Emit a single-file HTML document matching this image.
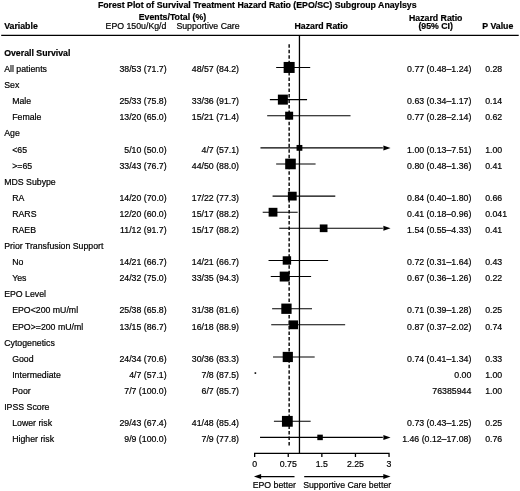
<!DOCTYPE html>
<html lang="en">
<head>
<meta charset="utf-8">
<title>Forest Plot of Survival Treatment Hazard Ratio (EPO/SC) Subgroup Anaylsys</title>
<style>
html,body{margin:0;padding:0;background:#fff;}
body{width:520px;height:491px;overflow:hidden;}
svg{display:block;filter:blur(0.35px);}
svg text{font-family:"Liberation Sans",sans-serif;font-size:8.75px;fill:#000;stroke:#000;stroke-width:0.2px;}
</style>
</head>
<body>
<svg width="520" height="491" viewBox="0 0 520 491">
<rect x="0" y="0" width="520" height="491" fill="#ffffff"/>
<text x="257.20" y="7.70" text-anchor="middle" font-weight="bold">Forest Plot of Survival Treatment Hazard Ratio (EPO/SC) Subgroup Anaylsys</text>
<text x="172.50" y="20.10" text-anchor="middle" font-weight="bold">Events/Total (%)</text>
<text x="4.20" y="28.90" text-anchor="start" font-weight="bold">Variable</text>
<text x="136.00" y="28.90" text-anchor="middle">EPO 150u/Kg/d</text>
<text x="208.00" y="28.90" text-anchor="middle">Supportive Care</text>
<text x="321.20" y="28.90" text-anchor="middle" font-weight="bold" font-size="8.6">Hazard Ratio</text>
<text x="435.70" y="20.55" text-anchor="middle" font-weight="bold" font-size="8.6">Hazard Ratio</text>
<text x="435.70" y="28.90" text-anchor="middle" font-weight="bold">(95% CI)</text>
<text x="497.80" y="28.90" text-anchor="middle" font-weight="bold">P Value</text>
<line x1="1.2" y1="35.4" x2="518.7" y2="35.4" stroke="#000" stroke-width="1.25"/>
<line x1="299.45" y1="35.4" x2="299.45" y2="453.4" stroke="#000" stroke-width="1.3"/>
<line x1="289.15" y1="44.3" x2="289.15" y2="445.6" stroke="#000" stroke-width="1.4" stroke-dasharray="3.5 2.024"/>
<text x="4.20" y="56.06" text-anchor="start" font-weight="bold">Overall Survival</text>
<text x="4.20" y="72.15" text-anchor="start" font-size="8.66">All patients</text>
<text x="166.60" y="72.15" text-anchor="end" font-size="8.64">38/53 (71.7)</text>
<text x="239.00" y="72.15" text-anchor="end" font-size="8.64">48/57 (84.2)</text>
<text x="471.30" y="72.15" text-anchor="end" font-size="8.64">0.77 (0.48–1.24)</text>
<text x="485.20" y="72.15" text-anchor="start" font-size="8.64">0.28</text>
<line x1="276.15" y1="67.45" x2="310.20" y2="67.45" stroke="#000" stroke-width="1.1"/>
<rect x="283.65" y="61.95" width="11.0" height="11.0" fill="#000"/>
<text x="4.20" y="88.23" text-anchor="start" font-size="8.66">Sex</text>
<text x="12.20" y="104.32" text-anchor="start" font-size="8.66">Male</text>
<text x="166.60" y="104.32" text-anchor="end" font-size="8.64">25/33 (75.8)</text>
<text x="239.00" y="104.32" text-anchor="end" font-size="8.64">33/36 (91.7)</text>
<text x="471.30" y="104.32" text-anchor="end" font-size="8.64">0.63 (0.34–1.17)</text>
<text x="485.20" y="104.32" text-anchor="start" font-size="8.64">0.14</text>
<line x1="269.88" y1="99.62" x2="307.07" y2="99.62" stroke="#000" stroke-width="1.1"/>
<rect x="277.87" y="94.62" width="10.0" height="10.0" fill="#000"/>
<text x="12.20" y="120.41" text-anchor="start" font-size="8.66">Female</text>
<text x="166.60" y="120.41" text-anchor="end" font-size="8.64">13/20 (65.0)</text>
<text x="239.00" y="120.41" text-anchor="end" font-size="8.64">15/21 (71.4)</text>
<text x="471.30" y="120.41" text-anchor="end" font-size="8.64">0.77 (0.28–2.14)</text>
<text x="485.20" y="120.41" text-anchor="start" font-size="8.64">0.62</text>
<line x1="267.19" y1="115.70" x2="350.52" y2="115.70" stroke="#000" stroke-width="1.1"/>
<rect x="285.15" y="111.70" width="8.0" height="8.0" fill="#000"/>
<text x="4.20" y="136.49" text-anchor="start" font-size="8.66">Age</text>
<text x="12.20" y="152.57" text-anchor="start" font-size="8.66">&lt;65</text>
<text x="166.60" y="152.57" text-anchor="end" font-size="8.64">5/10 (50.0)</text>
<text x="239.00" y="152.57" text-anchor="end" font-size="8.64">4/7 (57.1)</text>
<text x="471.30" y="152.57" text-anchor="end" font-size="8.64">1.00 (0.13–7.51)</text>
<text x="485.20" y="152.57" text-anchor="start" font-size="8.64">1.00</text>
<line x1="260.47" y1="147.88" x2="382.85" y2="147.88" stroke="#000" stroke-width="1.1"/>
<polygon points="390.55,147.88 383.35,145.38 383.35,150.38" fill="#000"/>
<rect x="296.55" y="144.97" width="5.8" height="5.8" fill="#000"/>
<text x="12.20" y="168.66" text-anchor="start" font-size="8.66">&gt;=65</text>
<text x="166.60" y="168.66" text-anchor="end" font-size="8.64">33/43 (76.7)</text>
<text x="239.00" y="168.66" text-anchor="end" font-size="8.64">44/50 (88.0)</text>
<text x="471.30" y="168.66" text-anchor="end" font-size="8.64">0.80 (0.48–1.36)</text>
<text x="485.20" y="168.66" text-anchor="start" font-size="8.64">0.41</text>
<line x1="276.15" y1="163.96" x2="315.58" y2="163.96" stroke="#000" stroke-width="1.1"/>
<rect x="285.19" y="158.66" width="10.6" height="10.6" fill="#000"/>
<text x="4.20" y="184.75" text-anchor="start" font-size="8.66">MDS Subype</text>
<text x="12.20" y="200.83" text-anchor="start" font-size="8.66">RA</text>
<text x="166.60" y="200.83" text-anchor="end" font-size="8.64">14/20 (70.0)</text>
<text x="239.00" y="200.83" text-anchor="end" font-size="8.64">17/22 (77.3)</text>
<text x="471.30" y="200.83" text-anchor="end" font-size="8.64">0.84 (0.40–1.80)</text>
<text x="485.20" y="200.83" text-anchor="start" font-size="8.64">0.66</text>
<line x1="272.57" y1="196.13" x2="335.29" y2="196.13" stroke="#000" stroke-width="1.1"/>
<rect x="287.88" y="191.73" width="8.8" height="8.8" fill="#000"/>
<text x="12.20" y="216.92" text-anchor="start" font-size="8.66">RARS</text>
<text x="166.60" y="216.92" text-anchor="end" font-size="8.64">12/20 (60.0)</text>
<text x="239.00" y="216.92" text-anchor="end" font-size="8.64">15/17 (88.2)</text>
<text x="471.30" y="216.92" text-anchor="end" font-size="8.64">0.41 (0.18–0.96)</text>
<text x="485.20" y="216.92" text-anchor="start" font-size="8.64">0.041</text>
<line x1="262.71" y1="212.22" x2="297.66" y2="212.22" stroke="#000" stroke-width="1.1"/>
<rect x="268.62" y="207.82" width="8.8" height="8.8" fill="#000"/>
<text x="12.20" y="233.00" text-anchor="start" font-size="8.66">RAEB</text>
<text x="166.60" y="233.00" text-anchor="end" font-size="8.64">11/12 (91.7)</text>
<text x="239.00" y="233.00" text-anchor="end" font-size="8.64">15/17 (88.2)</text>
<text x="471.30" y="233.00" text-anchor="end" font-size="8.64">1.54 (0.55–4.33)</text>
<text x="485.20" y="233.00" text-anchor="start" font-size="8.64">0.41</text>
<line x1="279.29" y1="228.30" x2="382.85" y2="228.30" stroke="#000" stroke-width="1.1"/>
<polygon points="390.55,228.30 383.35,225.80 383.35,230.80" fill="#000"/>
<rect x="319.79" y="224.45" width="7.7" height="7.7" fill="#000"/>
<text x="4.20" y="249.09" text-anchor="start" font-size="8.66">Prior Transfusion Support</text>
<text x="12.20" y="265.17" text-anchor="start" font-size="8.66">No</text>
<text x="166.60" y="265.17" text-anchor="end" font-size="8.64">14/21 (66.7)</text>
<text x="239.00" y="265.17" text-anchor="end" font-size="8.64">14/21 (66.7)</text>
<text x="471.30" y="265.17" text-anchor="end" font-size="8.64">0.72 (0.31–1.64)</text>
<text x="485.20" y="265.17" text-anchor="start" font-size="8.64">0.43</text>
<line x1="268.54" y1="260.47" x2="328.12" y2="260.47" stroke="#000" stroke-width="1.1"/>
<rect x="282.71" y="256.27" width="8.4" height="8.4" fill="#000"/>
<text x="12.20" y="281.25" text-anchor="start" font-size="8.66">Yes</text>
<text x="166.60" y="281.25" text-anchor="end" font-size="8.64">24/32 (75.0)</text>
<text x="239.00" y="281.25" text-anchor="end" font-size="8.64">33/35 (94.3)</text>
<text x="471.30" y="281.25" text-anchor="end" font-size="8.64">0.67 (0.36–1.26)</text>
<text x="485.20" y="281.25" text-anchor="start" font-size="8.64">0.22</text>
<line x1="270.78" y1="276.56" x2="311.10" y2="276.56" stroke="#000" stroke-width="1.1"/>
<rect x="279.72" y="271.61" width="9.9" height="9.9" fill="#000"/>
<text x="4.20" y="297.34" text-anchor="start" font-size="8.66">EPO Level</text>
<text x="12.20" y="313.43" text-anchor="start" font-size="8.66">EPO&lt;200 mU/ml</text>
<text x="166.60" y="313.43" text-anchor="end" font-size="8.64">25/38 (65.8)</text>
<text x="239.00" y="313.43" text-anchor="end" font-size="8.64">31/38 (81.6)</text>
<text x="471.30" y="313.43" text-anchor="end" font-size="8.64">0.71 (0.39–1.28)</text>
<text x="485.20" y="313.43" text-anchor="start" font-size="8.64">0.25</text>
<line x1="272.12" y1="308.73" x2="311.99" y2="308.73" stroke="#000" stroke-width="1.1"/>
<rect x="281.31" y="303.58" width="10.3" height="10.3" fill="#000"/>
<text x="12.20" y="329.51" text-anchor="start" font-size="8.66">EPO&gt;=200 mU/ml</text>
<text x="166.60" y="329.51" text-anchor="end" font-size="8.64">13/15 (86.7)</text>
<text x="239.00" y="329.51" text-anchor="end" font-size="8.64">16/18 (88.9)</text>
<text x="471.30" y="329.51" text-anchor="end" font-size="8.64">0.87 (0.37–2.02)</text>
<text x="485.20" y="329.51" text-anchor="start" font-size="8.64">0.74</text>
<line x1="271.23" y1="324.81" x2="345.15" y2="324.81" stroke="#000" stroke-width="1.1"/>
<rect x="289.23" y="320.41" width="8.8" height="8.8" fill="#000"/>
<text x="4.20" y="345.60" text-anchor="start" font-size="8.66">Cytogenetics</text>
<text x="12.20" y="361.68" text-anchor="start" font-size="8.66">Good</text>
<text x="166.60" y="361.68" text-anchor="end" font-size="8.64">24/34 (70.6)</text>
<text x="239.00" y="361.68" text-anchor="end" font-size="8.64">30/36 (83.3)</text>
<text x="471.30" y="361.68" text-anchor="end" font-size="8.64">0.74 (0.41–1.34)</text>
<text x="485.20" y="361.68" text-anchor="start" font-size="8.64">0.33</text>
<line x1="273.02" y1="356.98" x2="314.68" y2="356.98" stroke="#000" stroke-width="1.1"/>
<rect x="282.70" y="351.88" width="10.2" height="10.2" fill="#000"/>
<text x="12.20" y="377.77" text-anchor="start" font-size="8.66">Intermediate</text>
<text x="166.60" y="377.77" text-anchor="end" font-size="8.64">4/7 (57.1)</text>
<text x="239.00" y="377.77" text-anchor="end" font-size="8.64">7/8 (87.5)</text>
<text x="471.30" y="377.77" text-anchor="end" font-size="8.64">0.00</text>
<text x="485.20" y="377.77" text-anchor="start" font-size="8.64">1.00</text>
<rect x="254.57" y="372.27" width="1.6" height="1.6" fill="#000"/>
<text x="12.20" y="393.85" text-anchor="start" font-size="8.66">Poor</text>
<text x="166.60" y="393.85" text-anchor="end" font-size="8.64">7/7 (100.0)</text>
<text x="239.00" y="393.85" text-anchor="end" font-size="8.64">6/7 (85.7)</text>
<text x="471.30" y="393.85" text-anchor="end" font-size="8.64">76385944</text>
<text x="485.20" y="393.85" text-anchor="start" font-size="8.64">1.00</text>
<text x="4.20" y="409.94" text-anchor="start" font-size="8.66">IPSS Score</text>
<text x="12.20" y="426.02" text-anchor="start" font-size="8.66">Lower risk</text>
<text x="166.60" y="426.02" text-anchor="end" font-size="8.64">29/43 (67.4)</text>
<text x="239.00" y="426.02" text-anchor="end" font-size="8.64">41/48 (85.4)</text>
<text x="471.30" y="426.02" text-anchor="end" font-size="8.64">0.73 (0.43–1.25)</text>
<text x="485.20" y="426.02" text-anchor="start" font-size="8.64">0.25</text>
<line x1="273.91" y1="421.32" x2="310.65" y2="421.32" stroke="#000" stroke-width="1.1"/>
<rect x="281.95" y="415.92" width="10.8" height="10.8" fill="#000"/>
<text x="12.20" y="442.11" text-anchor="start" font-size="8.66">Higher risk</text>
<text x="166.60" y="442.11" text-anchor="end" font-size="8.64">9/9 (100.0)</text>
<text x="239.00" y="442.11" text-anchor="end" font-size="8.64">7/9 (77.8)</text>
<text x="471.30" y="442.11" text-anchor="end" font-size="8.64">1.46 (0.12–17.08)</text>
<text x="485.20" y="442.11" text-anchor="start" font-size="8.64">0.76</text>
<line x1="260.03" y1="437.41" x2="382.85" y2="437.41" stroke="#000" stroke-width="1.1"/>
<polygon points="390.55,437.41 383.35,434.91 383.35,439.91" fill="#000"/>
<rect x="317.31" y="434.66" width="5.5" height="5.5" fill="#000"/>
<path d="M254.65 457.0 V453.4 H389.05 V457.0" fill="none" stroke="#000" stroke-width="1.3"/>
<line x1="288.25" y1="453.4" x2="288.25" y2="457.0" stroke="#000" stroke-width="1.3"/>
<line x1="321.85" y1="453.4" x2="321.85" y2="457.0" stroke="#000" stroke-width="1.3"/>
<line x1="355.45" y1="453.4" x2="355.45" y2="457.0" stroke="#000" stroke-width="1.3"/>
<text x="254.65" y="466.90" text-anchor="middle">0</text>
<text x="288.25" y="466.90" text-anchor="middle">0.75</text>
<text x="321.85" y="466.90" text-anchor="middle">1.5</text>
<text x="355.45" y="466.90" text-anchor="middle">2.25</text>
<text x="389.05" y="466.90" text-anchor="middle">3</text>
<line x1="260.1" y1="476.6" x2="294.5" y2="476.6" stroke="#000" stroke-width="1.1"/>
<polygon points="253.9,476.6 261.1,474.1 261.1,479.1" fill="#000"/>
<line x1="304.2" y1="476.6" x2="384.3" y2="476.6" stroke="#000" stroke-width="1.1"/>
<polygon points="390.5,476.6 383.3,474.1 383.3,479.1" fill="#000"/>
<text x="274.30" y="488.40" text-anchor="middle">EPO better</text>
<text x="347.20" y="488.40" text-anchor="middle">Supportive Care better</text>
</svg>
</body>
</html>
